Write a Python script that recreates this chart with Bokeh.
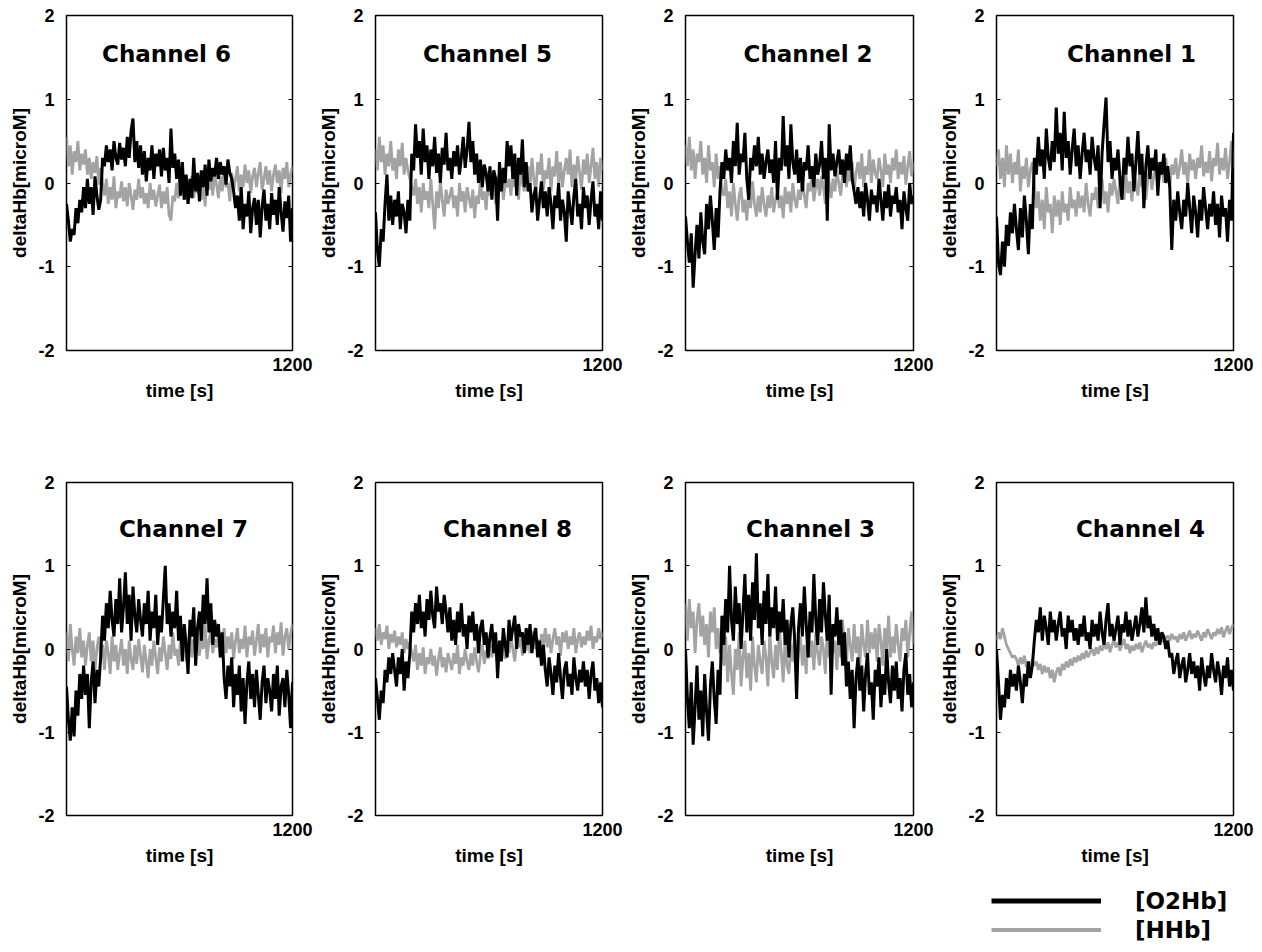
from bokeh.plotting import figure
from bokeh.layouts import column, row, Spacer
from bokeh.models import Range1d, FixedTicker, LinearAxis, Label, Legend, LegendItem
from bokeh.embed import file_html
from bokeh.resources import INLINE
import numpy as np

# ---------------- data ----------------
channels = ["Channel 6", "Channel 5", "Channel 2", "Channel 1",
            "Channel 7", "Channel 8", "Channel 3", "Channel 4"]
series_names = ["[O2Hb]", "[HHb]"]
y_ticks = [-2, -1, 0, 1, 2]
y_tick_labels = {-2: "-2", -1: "-1", 0: "0", 1: "1", 2: "2"}
x_ticks = [1200]
t_start, t_end = 0, 1200
y_min, y_max = -2, 2

o2hb_ch6 = [-0.25, -0.45, -0.70, -0.55, -0.62, -0.30, -0.48, -0.20, -0.35, -0.05,
            -0.30, 0.05, -0.25, -0.05, -0.38, 0.08, -0.15, -0.32, -0.20, 0.30,
            0.20, 0.45, 0.25, 0.40, 0.15, 0.50, 0.30, 0.22, 0.48, 0.28,
            0.42, 0.20, 0.55, 0.30, 0.62, 0.77, 0.25, 0.50, 0.18, 0.45,
            0.10, 0.38, 0.02, 0.30, 0.15, 0.45, 0.05, 0.35, 0.20, 0.40,
            0.08, 0.42, 0.15, 0.30, 0.00, 0.65, 0.18, 0.35, 0.05, 0.28,
            -0.15, 0.25, -0.20, 0.10, -0.25, 0.05, -0.18, 0.30, -0.10, 0.12,
            -0.22, 0.15, -0.05, 0.22, -0.15, 0.28, 0.02, 0.18, 0.08, 0.30,
            0.05, 0.25, 0.10, 0.20, -0.02, 0.28, 0.12, 0.05, -0.10, -0.30,
            -0.15, -0.45, -0.05, -0.55, -0.25, -0.40, -0.10, -0.60, -0.30, -0.18,
            -0.50, -0.20, -0.65, -0.28, -0.08, -0.45, -0.25, -0.55, -0.12, -0.38,
            -0.20, -0.50, -0.05, -0.35, -0.58, -0.22, -0.42, -0.15, -0.70, -0.30]
hhb_ch6 = [0.55, 0.20, 0.45, 0.10, 0.38, 0.25, 0.50, 0.15, 0.35, 0.22,
           0.40, 0.10, 0.30, 0.05, 0.25, 0.12, 0.32, -0.02, 0.18, 0.00,
           -0.15, 0.05, -0.25, -0.05, -0.20, 0.08, -0.30, -0.10, -0.18, 0.02,
           -0.22, -0.05, -0.28, 0.00, -0.15, -0.32, -0.08, -0.20, 0.05, -0.18,
           -0.05, -0.25, -0.12, -0.30, 0.00, -0.20, -0.08, -0.28, -0.15, -0.02,
           -0.30, -0.10, -0.25, -0.05, -0.38, -0.45, -0.15, -0.22, 0.00, -0.18,
           -0.10, 0.05, -0.20, 0.02, -0.25, -0.05, 0.08, -0.18, 0.00, -0.12,
           0.10, -0.20, 0.02, -0.28, 0.15, -0.08, 0.05, -0.15, 0.12, -0.02,
           -0.18, 0.08, -0.10, 0.18, -0.05, 0.00, -0.22, 0.12, -0.08, 0.05,
           0.20, -0.10, 0.10, -0.05, 0.22, 0.00, 0.15, -0.12, 0.08, 0.18,
           -0.05, 0.12, 0.25, -0.08, 0.05, 0.20, -0.02, 0.15, -0.10, 0.10,
           0.22, 0.00, 0.15, -0.12, 0.18, 0.05, 0.25, -0.05, 0.10, 0.20]

o2hb_ch5 = [-0.35, -0.80, -1.00, -0.55, -0.70, -0.25, 0.10, -0.45, -0.15, -0.50,
            -0.20, -0.40, -0.10, -0.55, -0.25, -0.35, -0.60, -0.20, -0.45, 0.35,
            0.15, 0.70, 0.30, 0.50, 0.10, 0.65, 0.25, 0.45, 0.05, 0.40,
            0.20, 0.55, 0.12, 0.35, 0.00, 0.42, 0.22, 0.60, 0.15, 0.30,
            0.05, 0.38, 0.20, 0.45, 0.10, 0.30, 0.55, 0.18, 0.40, 0.73,
            0.25, 0.50, 0.10, 0.35, 0.00, 0.28, -0.05, 0.22, 0.12, -0.10,
            0.20, -0.20, 0.15, 0.05, -0.45, 0.25, -0.10, 0.18, 0.00, 0.50,
            0.20, 0.45, 0.05, 0.35, -0.15, 0.30, 0.10, 0.52, -0.05, 0.25,
            -0.10, 0.00, -0.35, -0.15, -0.05, -0.45, -0.20, 0.02, -0.30, -0.10,
            -0.40, -0.05, -0.25, -0.55, -0.15, -0.30, 0.00, -0.45, -0.20, -0.35,
            -0.70, -0.10, -0.30, -0.50, -0.15, 0.05, -0.40, -0.25, -0.55, -0.05,
            -0.30, -0.15, -0.50, -0.20, 0.02, -0.40, -0.25, -0.55, -0.10, -0.45]
hhb_ch5 = [0.40, 0.15, 0.55, 0.25, 0.45, 0.10, 0.35, 0.20, 0.50, 0.15,
           0.30, 0.05, 0.40, 0.20, 0.48, 0.10, 0.30, 0.15, 0.05, -0.05,
           -0.15, 0.05, -0.25, -0.05, -0.35, 0.00, -0.20, -0.10, -0.30, 0.05,
           -0.25, -0.55, -0.10, -0.30, 0.02, -0.20, -0.40, -0.08, -0.25, -0.15,
           -0.05, -0.30, -0.15, -0.40, 0.00, -0.22, -0.10, -0.35, -0.05, -0.18,
           -0.30, -0.08, -0.42, -0.15, -0.25, 0.05, -0.20, -0.10, -0.32, 0.00,
           -0.15, 0.10, -0.05, -0.25, 0.08, -0.10, 0.12, -0.20, 0.00, -0.05,
           0.05, -0.15, 0.15, -0.05, 0.10, -0.20, 0.18, 0.00, -0.10, 0.12,
           0.20, -0.05, 0.30, 0.05, -0.12, 0.25, 0.10, 0.35, -0.08, 0.15,
           0.05, 0.30, -0.10, 0.20, 0.08, 0.38, 0.00, 0.25, -0.05, 0.15,
           0.30, 0.10, 0.40, -0.05, 0.22, 0.05, 0.32, 0.12, -0.08, 0.28,
           0.10, 0.35, 0.00, 0.20, 0.42, 0.05, 0.25, -0.05, 0.30, 0.15]

o2hb_ch2 = [-0.40, -0.70, -0.95, -0.60, -1.25, -0.85, -0.50, -0.90, -0.35, -0.70,
            -0.85, -0.25, -0.55, -0.15, -0.45, -0.80, -0.30, -0.65, -0.10, 0.25,
            0.05, 0.40, 0.15, 0.30, 0.00, 0.50, 0.20, 0.72, 0.10, 0.35,
            0.25, 0.60, 0.05, -0.20, 0.30, 0.15, 0.45, 0.20, 0.55, 0.10,
            0.35, 0.05, 0.25, 0.40, 0.12, 0.28, 0.00, 0.50, -0.20, 0.30,
            0.15, 0.80, 0.20, 0.45, 0.05, 0.70, 0.25, 0.10, 0.40, 0.00,
            0.30, -0.10, 0.25, 0.15, 0.45, 0.05, 0.20, -0.05, 0.35, 0.10,
            0.22, 0.50, 0.05, 0.30, -0.45, 0.70, 0.15, 0.35, 0.08, 0.25,
            0.40, 0.10, 0.28, 0.00, 0.35, 0.15, 0.45, 0.05, -0.10, -0.25,
            -0.05, -0.30, -0.10, -0.40, 0.00, -0.20, -0.45, -0.08, -0.25, -0.15,
            -0.35, 0.05, -0.20, -0.45, -0.10, -0.30, -0.02, -0.40, -0.15, -0.25,
            -0.05, -0.35, -0.20, -0.55, -0.10, -0.30, -0.45, 0.00, -0.25, -0.15]
hhb_ch2 = [0.45, 0.20, 0.55, 0.15, 0.40, 0.05, 0.35, 0.25, 0.50, 0.10,
           0.30, 0.00, 0.45, 0.15, 0.25, -0.05, 0.35, 0.05, 0.20, -0.10,
           -0.15, 0.05, -0.30, -0.10, -0.40, 0.00, -0.25, -0.45, -0.15, -0.05,
           -0.35, -0.20, -0.45, -0.10, -0.30, 0.02, -0.25, -0.40, -0.15, -0.35,
           -0.05, -0.25, -0.40, -0.15, -0.30, -0.05, -0.35, -0.20, -0.10, -0.30,
           -0.15, -0.42, -0.05, -0.25, -0.10, -0.35, 0.00, -0.20, -0.30, -0.08,
           -0.20, 0.05, -0.15, -0.30, 0.00, -0.10, 0.10, -0.22, -0.05, 0.05,
           -0.15, 0.08, -0.05, -0.25, 0.12, 0.00, -0.18, 0.05, -0.10, 0.15,
           0.00, -0.15, 0.10, 0.20, -0.05, 0.15, 0.02, 0.25, -0.08, 0.12,
           0.25, 0.05, 0.35, -0.05, 0.20, 0.10, 0.40, 0.00, 0.28, 0.12,
           0.05, 0.30, 0.15, -0.05, 0.35, 0.10, 0.22, 0.00, 0.30, 0.15,
           0.40, 0.05, 0.25, 0.10, 0.32, -0.02, 0.20, 0.38, 0.08, 0.25]

o2hb_ch1 = [-0.40, -0.95, -1.10, -0.70, -1.00, -0.50, -0.75, -0.35, -0.60, -0.25,
            -0.55, -0.80, -0.30, -0.65, -0.15, -0.45, -0.85, -0.25, -0.55, 0.30,
            0.10, 0.55, 0.20, 0.40, 0.05, 0.65, 0.30, 0.15, 0.50, 0.25,
            0.90, 0.35, 0.60, 0.15, 0.85, 0.30, 0.50, 0.10, 0.40, 0.65,
            0.20, 0.45, 0.05, 0.35, 0.60, 0.25, 0.40, 0.10, 0.55, 0.30,
            0.15, 0.45, -0.30, 0.35, 0.70, 1.02, 0.25, 0.50, 0.05, 0.30,
            0.15, 0.40, 0.05, -0.20, 0.30, 0.10, 0.55, 0.20, 0.35, -0.10,
            0.25, 0.62, 0.10, 0.35, -0.30, 0.20, 0.45, 0.05, 0.30, 0.15,
            0.40, -0.15, 0.25, 0.10, 0.35, 0.00, 0.20, -0.05, -0.80, -0.20,
            -0.45, -0.10, -0.35, -0.55, -0.20, -0.40, 0.00, -0.30, -0.60, -0.15,
            -0.35, -0.65, -0.20, -0.45, -0.05, -0.30, -0.55, -0.25, -0.40, -0.10,
            -0.50, -0.25, -0.65, -0.15, -0.40, -0.30, -0.70, -0.20, -0.45, 0.60]
hhb_ch1 = [0.20, 0.40, 0.05, 0.30, -0.05, 0.45, 0.10, 0.35, 0.00, 0.25,
           0.10, 0.40, -0.10, 0.20, 0.05, 0.30, -0.05, 0.15, 0.25, 0.00,
           -0.30, -0.10, -0.45, -0.20, -0.55, -0.05, -0.35, -0.25, -0.60, -0.15,
           -0.40, -0.20, -0.50, -0.10, -0.35, -0.25, -0.45, -0.05, -0.30, -0.20,
           -0.40, -0.10, -0.30, -0.15, -0.35, 0.00, -0.25, -0.40, -0.12, -0.20,
           -0.05, -0.30, -0.15, 0.05, -0.25, -0.10, -0.35, 0.00, -0.15, 0.05,
           -0.10, -0.25, 0.08, -0.05, -0.20, 0.10, -0.12, 0.02, -0.22, 0.12,
           0.00, -0.15, 0.15, -0.05, 0.10, -0.20, 0.05, 0.18, -0.08, 0.10,
           0.20, -0.05, 0.12, 0.25, 0.00, 0.30, 0.08, -0.05, 0.22, 0.10,
           0.30, 0.05, 0.20, 0.40, 0.10, 0.25, -0.02, 0.35, 0.15, 0.28,
           0.05, 0.30, 0.18, 0.45, 0.08, 0.25, 0.12, 0.38, 0.02, 0.30,
           0.20, 0.48, 0.10, 0.30, 0.15, 0.42, 0.05, 0.25, 0.50, 0.18]

o2hb_ch7 = [-0.45, -0.85, -1.10, -0.70, -1.05, -0.50, -0.80, -0.30, -0.60, -0.20,
            -0.55, -0.30, -0.95, -0.40, -0.15, -0.65, -0.25, -0.45, -0.10, 0.40,
            0.10, 0.55, 0.25, 0.70, 0.35, 0.15, 0.60, 0.30, 0.85, 0.20,
            0.50, 0.92, 0.30, 0.65, 0.10, 0.75, 0.40, 0.20, 0.60, 0.35,
            0.15, 0.55, 0.30, 0.70, 0.10, 0.45, 0.25, 0.65, 0.05, 0.40,
            0.20, 0.60, 1.00, 0.30, 0.55, 0.15, 0.45, 0.25, 0.70, 0.10,
            0.40, -0.15, 0.30, 0.05, -0.30, 0.35, 0.15, 0.50, -0.20, 0.25,
            0.45, 0.10, 0.65, 0.30, 0.85, 0.20, 0.55, 0.05, 0.35, 0.15,
            0.30, -0.10, 0.20, -0.35, -0.60, -0.20, -0.45, -0.10, -0.70, -0.30,
            -0.55, -0.20, -0.75, -0.35, -0.90, -0.40, -0.15, -0.60, -0.30, -0.70,
            -0.25, -0.55, -0.85, -0.40, -0.20, -0.65, -0.35, -0.50, -0.75, -0.30,
            -0.60, -0.20, -0.80, -0.45, -0.35, -0.70, -0.25, -0.55, -0.95, -0.40]
hhb_ch7 = [0.20, -0.15, 0.30, 0.00, -0.20, 0.15, -0.05, 0.25, -0.10, 0.10,
           -0.20, 0.05, 0.20, -0.15, 0.10, -0.25, 0.00, 0.15, -0.10, 0.05,
           -0.25, 0.10, -0.05, -0.30, 0.15, -0.15, 0.05, -0.25, -0.05, 0.12,
           -0.20, 0.00, -0.30, 0.10, -0.12, -0.25, 0.05, -0.18, 0.12, -0.08,
           -0.28, 0.05, -0.15, -0.35, 0.00, -0.20, 0.10, -0.10, -0.30, 0.02,
           -0.15, 0.15, -0.05, -0.25, 0.05, -0.12, 0.20, -0.08, 0.00, -0.20,
           0.10, -0.05, 0.18, -0.15, 0.05, 0.25, -0.10, 0.12, -0.02, 0.20,
           -0.08, 0.15, 0.00, 0.30, -0.12, 0.10, 0.22, -0.05, 0.12, 0.02,
           0.18, -0.10, 0.08, 0.25, -0.05, 0.15, 0.00, 0.20, -0.12, 0.10,
           0.25, -0.05, 0.12, 0.00, 0.28, -0.10, 0.15, 0.05, 0.22, -0.08,
           0.10, 0.30, -0.05, 0.18, 0.02, 0.25, -0.10, 0.15, 0.08, 0.28,
           -0.05, 0.20, 0.05, 0.32, -0.08, 0.15, 0.25, 0.00, 0.18, 0.30]

o2hb_ch8 = [-0.35, -0.60, -0.85, -0.50, -0.65, -0.25, -0.40, -0.10, -0.30, -0.05,
            -0.25, -0.45, -0.10, -0.30, 0.00, -0.50, -0.15, -0.35, -0.05, 0.45,
            0.20, 0.55, 0.30, 0.65, 0.25, 0.45, 0.15, 0.60, 0.35, 0.70,
            0.40, 0.25, 0.75, 0.45, 0.55, 0.30, 0.65, 0.45, 0.20, 0.50,
            0.10, 0.35, 0.05, 0.45, 0.20, 0.55, 0.15, 0.30, 0.00, 0.40,
            0.20, 0.45, 0.10, 0.30, -0.05, 0.25, 0.35, 0.05, 0.20, -0.10,
            0.15, 0.30, -0.05, 0.20, -0.35, 0.10, -0.15, 0.25, 0.05, -0.10,
            0.35, 0.10, 0.25, 0.40, 0.00, 0.30, 0.15, 0.20, -0.05, 0.25,
            0.05, 0.30, -0.05, 0.15, 0.25, -0.10, 0.10, -0.20, 0.05, -0.25,
            -0.45, -0.10, -0.30, -0.55, -0.20, -0.40, -0.05, -0.35, -0.60, -0.25,
            -0.15, -0.45, -0.30, -0.55, -0.10, -0.35, -0.50, -0.25, -0.40, -0.15,
            -0.45, -0.25, -0.60, -0.30, -0.15, -0.50, -0.35, -0.65, -0.40, -0.70]
hhb_ch8 = [0.25, 0.10, 0.30, 0.05, 0.20, 0.12, 0.28, 0.00, 0.18, 0.08,
           0.22, 0.02, 0.15, 0.05, 0.20, -0.05, 0.12, 0.00, 0.08, -0.05,
           -0.15, 0.05, -0.25, -0.05, -0.20, 0.02, -0.30, -0.10, -0.18, 0.00,
           -0.20, -0.08, -0.32, -0.12, 0.02, -0.22, -0.10, -0.28, -0.05, -0.15,
           -0.25, -0.05, -0.18, 0.05, -0.30, -0.10, -0.20, 0.00, -0.15, -0.25,
           -0.05, -0.20, 0.02, -0.15, -0.28, -0.08, 0.05, -0.18, -0.02, -0.12,
           0.05, -0.10, 0.12, -0.05, -0.18, 0.08, -0.02, 0.15, -0.12, 0.05,
           -0.05, 0.15, 0.00, -0.15, 0.10, 0.02, 0.20, -0.08, 0.08, -0.02,
           0.15, -0.05, 0.10, 0.22, 0.00, 0.12, -0.10, 0.18, 0.05, 0.25,
           0.02, 0.18, -0.05, 0.12, 0.25, 0.05, 0.15, -0.08, 0.20, 0.08,
           0.22, 0.00, 0.15, 0.05, 0.25, -0.05, 0.12, 0.20, 0.02, 0.15,
           0.05, 0.22, 0.10, 0.28, 0.00, 0.15, 0.08, 0.25, 0.12, 0.20]

o2hb_ch3 = [0.00, -0.60, -0.95, -0.40, -1.15, -0.70, -0.20, -0.85, -0.50, -1.05,
            -0.30, -0.75, -1.10, -0.45, -0.15, -0.60, -0.90, -0.25, -0.55, 0.40,
            0.05, 0.60, 0.20, 1.00, 0.35, 0.10, 0.75, 0.30, 0.55, 0.00,
            0.45, 0.90, 0.20, 0.65, 0.10, 0.80, 0.35, 1.15, 0.25, 0.55,
            0.05, 0.70, 0.30, 0.90, 0.15, 0.50, 0.25, 0.75, 0.10, 0.45,
            0.20, 0.60, 0.05, 0.35, -0.10, 0.30, 0.50, 0.10, -0.60, 0.25,
            0.55, 0.15, 0.75, 0.30, -0.10, 0.45, 0.20, 0.90, 0.35, 0.05,
            0.60, 0.20, 0.80, 0.40, 0.10, 0.65, -0.55, 0.30, 0.15, 0.50,
            0.05, 0.35, -0.20, 0.20, -0.45, -0.15, -0.60, -0.25, -0.95, -0.35,
            -0.10, -0.50, -0.20, -0.75, -0.30, -0.05, -0.55, -0.40, -0.85, -0.25,
            -0.45, -0.10, -0.70, -0.30, -0.55, 0.00, -0.40, -0.65, -0.20, -0.50,
            -0.15, -0.60, -0.35, -0.75, -0.25, -0.05, -0.55, -0.30, -0.70, -0.40]
hhb_ch3 = [0.55, 0.10, 0.60, 0.25, 0.45, -0.05, 0.35, 0.55, 0.15, 0.40,
           0.05, 0.30, -0.10, 0.45, 0.20, 0.50, 0.00, 0.25, -0.05, 0.10,
           -0.20, 0.15, -0.40, 0.05, -0.30, -0.55, 0.00, -0.25, 0.20, -0.45,
           -0.10, 0.10, -0.35, -0.05, -0.50, 0.15, -0.20, -0.40, 0.05, -0.15,
           -0.30, 0.10, -0.10, -0.45, 0.20, -0.15, -0.35, 0.05, -0.25, 0.25,
           -0.05, -0.40, 0.15, -0.20, -0.30, 0.05, -0.15, 0.20, -0.35, 0.00,
           0.15, -0.20, 0.05, -0.30, 0.25, -0.10, 0.10, -0.25, 0.20, -0.05,
           -0.20, 0.15, 0.00, -0.30, 0.25, -0.10, 0.30, -0.05, 0.10, -0.25,
           0.20, -0.10, 0.35, 0.00, -0.20, 0.25, 0.05, -0.15, 0.30, -0.05,
           0.15, -0.20, 0.30, 0.05, -0.10, 0.35, -0.05, 0.20, 0.00, 0.25,
           -0.15, 0.30, 0.10, -0.20, 0.25, 0.00, 0.40, -0.10, 0.15, -0.05,
           0.30, 0.05, -0.15, 0.25, 0.10, 0.35, -0.10, 0.20, 0.45, 0.05]

o2hb_ch4 = [0.00, -0.40, -0.85, -0.55, -0.70, -0.35, -0.60, -0.25, -0.45, -0.30,
            -0.50, -0.20, -0.40, -0.65, -0.30, -0.45, -0.15, -0.35, -0.20, 0.10,
            0.35, 0.20, 0.50, 0.10, 0.40, 0.25, 0.05, 0.45, 0.20, 0.35,
            0.10, 0.30, 0.45, 0.15, 0.25, 0.00, 0.40, 0.20, 0.35, 0.10,
            0.25, 0.05, 0.30, 0.15, 0.40, 0.10, 0.20, 0.00, 0.35, 0.15,
            0.30, 0.10, 0.45, 0.20, 0.05, 0.35, 0.55, 0.15, 0.30, 0.10,
            0.25, 0.40, 0.05, 0.30, 0.20, 0.45, 0.15, 0.35, 0.10, 0.25,
            0.40, 0.15, 0.30, 0.50, 0.20, 0.62, 0.25, 0.40, 0.15, 0.30,
            0.10, 0.25, 0.05, 0.20, 0.15, 0.00, 0.10, -0.10, -0.05, -0.30,
            -0.15, -0.05, -0.35, -0.20, -0.10, -0.40, -0.25, -0.05, -0.30, -0.15,
            -0.35, -0.20, -0.50, -0.10, -0.30, -0.45, -0.20, -0.35, -0.05, -0.25,
            -0.40, -0.15, -0.30, -0.55, -0.20, -0.35, -0.10, -0.45, -0.25, -0.50]
hhb_ch4 = [0.10, 0.20, 0.12, 0.25, 0.15, 0.05, 0.00, -0.05, -0.10, -0.08,
           -0.12, -0.20, -0.10, -0.18, -0.08, -0.22, -0.15, -0.25, -0.12, -0.20,
           -0.15, -0.25, -0.18, -0.30, -0.20, -0.28, -0.22, -0.35, -0.25, -0.40,
           -0.28, -0.22, -0.32, -0.18, -0.25, -0.15, -0.22, -0.12, -0.20, -0.10,
           -0.16, -0.08, -0.14, -0.05, -0.12, -0.02, -0.10, -0.04, 0.00, -0.08,
           0.02, -0.06, 0.04, -0.02, 0.06, 0.00, 0.08, -0.04, 0.05, 0.10,
           0.02, 0.08, -0.02, 0.05, 0.12, 0.00, 0.06, -0.05, 0.04, -0.02,
           0.06, 0.00, 0.08, -0.04, 0.04, 0.10, 0.02, 0.06, 0.00, 0.08,
           0.04, 0.10, 0.06, 0.14, 0.08, 0.12, 0.16, 0.10, 0.18, 0.12,
           0.15, 0.08, 0.18, 0.12, 0.20, 0.10, 0.16, 0.22, 0.12, 0.18,
           0.14, 0.22, 0.16, 0.10, 0.20, 0.14, 0.24, 0.18, 0.12, 0.20,
           0.16, 0.24, 0.18, 0.26, 0.14, 0.22, 0.28, 0.18, 0.25, 0.30]

o2hb = {"Channel 6": o2hb_ch6, "Channel 5": o2hb_ch5, "Channel 2": o2hb_ch2, "Channel 1": o2hb_ch1,
        "Channel 7": o2hb_ch7, "Channel 8": o2hb_ch8, "Channel 3": o2hb_ch3, "Channel 4": o2hb_ch4}
hhb = {"Channel 6": hhb_ch6, "Channel 5": hhb_ch5, "Channel 2": hhb_ch2, "Channel 1": hhb_ch1,
       "Channel 7": hhb_ch7, "Channel 8": hhb_ch8, "Channel 3": hhb_ch3, "Channel 4": hhb_ch4}

# ---------------- layout / style ----------------
left_borders = [66, 61, 61, 61]
frame_widths = [226, 227, 228, 237]
right_borders = [22, 22, 22, 28]
top_border = 15
frame_heights = [335, 333]
bottom_borders = [117, 57]
legend_row_height = 80
legend_spacer_width = 985
legend_fig_width = 277
title_x = [531, 592, 645, 684, 621, 698, 658, 729]
title_y = [1.54, 1.54, 1.54, 1.54, 1.44, 1.44, 1.44, 1.44]

O2_COLOR = "#000000"
HHB_COLOR = "#a3a3a3"
AX_FONT = "Liberation Sans"


def style_axis(ax):
    ax.axis_line_color = None
    ax.minor_tick_line_color = None
    ax.major_label_text_font = AX_FONT
    ax.major_label_text_font_style = "bold"
    ax.major_label_text_font_size = "18px"
    ax.major_label_text_color = "black"
    ax.axis_label_text_font = AX_FONT
    ax.axis_label_text_font_style = "bold"
    ax.axis_label_text_font_size = "19px"
    ax.axis_label_text_color = "black"


panels = []
for i, name in enumerate(channels):
    r, c = divmod(i, 4)
    w = left_borders[c] + frame_widths[c] + right_borders[c]
    h = top_border + frame_heights[r] + bottom_borders[r]
    p = figure(width=w, height=h,
               x_range=Range1d(t_start, t_end), y_range=Range1d(y_min, y_max),
               output_backend="svg", toolbar_location=None,
               min_border_left=left_borders[c], min_border_right=right_borders[c],
               min_border_top=top_border, min_border_bottom=bottom_borders[r],
               x_axis_label="time [s]", y_axis_label="deltaHb[microM]")
    p.grid.visible = False
    p.outline_line_color = "black"
    p.outline_line_width = 1.5
    p.background_fill_color = "white"
    p.border_fill_color = "white"

    xa = p.xaxis[0]
    xa.ticker = FixedTicker(ticks=x_ticks)
    xa.major_tick_in = 0
    xa.major_tick_out = 0
    xa.major_label_standoff = 7
    xa.axis_label_standoff = 6
    style_axis(xa)

    ya = p.yaxis[0]
    ya.ticker = FixedTicker(ticks=y_ticks)
    ya.major_label_overrides = y_tick_labels
    ya.major_tick_in = 4
    ya.major_tick_out = 0
    ya.major_label_standoff = 12
    ya.axis_label_standoff = 5
    style_axis(ya)

    ra = LinearAxis(ticker=FixedTicker(ticks=y_ticks))
    style_axis(ra)
    ra.major_tick_in = 4
    ra.major_tick_out = 0
    ra.major_label_standoff = 0
    ra.major_label_text_font_size = "8px"
    ra.major_label_text_color = None
    p.add_layout(ra, "right")

    p.line(np.linspace(t_start, t_end, len(hhb[name])), hhb[name],
           line_color=HHB_COLOR, line_width=2.8)
    p.line(np.linspace(t_start, t_end, len(o2hb[name])), o2hb[name],
           line_color=O2_COLOR, line_width=3.0)

    p.add_layout(Label(x=title_x[i], y=title_y[i], text=name,
                       text_align="center", text_baseline="middle",
                       text_font="DejaVu Sans", text_font_style="bold",
                       text_font_size="23px", text_color="black"))
    panels.append(p)

# legend panel (bottom right)
lp = figure(width=legend_fig_width, height=legend_row_height,
            x_range=Range1d(0, 1), y_range=Range1d(0, 1),
            output_backend="svg", toolbar_location=None, min_border=0)
lp.axis.visible = False
lp.grid.visible = False
lp.outline_line_color = None
lp.background_fill_color = "white"
lp.border_fill_color = "white"
# legend swatches: renderers whose points lie outside the visible range
r1 = lp.line(x=[-2, -1], y=[-2, -1], line_color=O2_COLOR, line_width=5)
r2 = lp.line(x=[-2, -1], y=[-2, -1], line_color=HHB_COLOR, line_width=4)
leg = Legend(items=[LegendItem(label=series_names[0], renderers=[r1]),
                    LegendItem(label=series_names[1], renderers=[r2])],
             location=(6, 8), orientation="vertical",
             padding=0, margin=0, spacing=0,
             glyph_width=110, glyph_height=29, label_height=29,
             label_standoff=34,
             border_line_color=None, background_fill_alpha=0,
             label_text_font="DejaVu Sans", label_text_font_style="bold",
             label_text_font_size="23px", label_text_color="black")
lp.add_layout(leg)

layout = column(row(*panels[:4], spacing=0),
                row(*panels[4:], spacing=0),
                row(Spacer(width=legend_spacer_width, height=legend_row_height), lp, spacing=0),
                spacing=0)

with open("out.html", "w") as f:
    f.write(file_html(layout, INLINE))
